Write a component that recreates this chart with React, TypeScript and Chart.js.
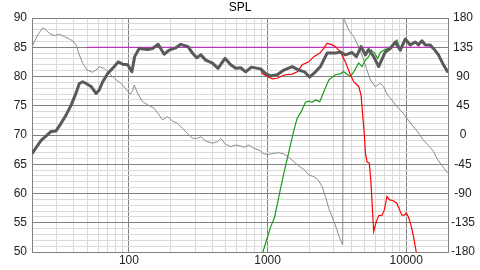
import React, { useEffect, useRef } from 'react';
import { Chart, registerables } from 'chart.js';

Chart.register(...registerables);

// ---- data ----
const splFreq = [20, 23.3, 27.5, 29.8, 32.4, 35.2, 38.3, 41.6, 43.9, 46.4, 49.1, 53.3, 57.9, 61.1, 64.7, 70.3, 78.4, 83.8, 90.1, 97.9, 105, 110, 118.6, 136, 148, 162.5, 179.5, 195, 218, 236.6, 267, 287, 308, 330, 358, 400, 439, 493, 542, 589, 640, 695, 764, 891, 968, 1052, 1175, 1310, 1506, 1680, 1845, 2005, 2215, 2405, 2687, 3083, 3350, 3640, 4066, 4366, 4722, 5070, 5357, 5821, 6324, 7063, 7674, 8337, 9057, 9840, 10690, 11615, 12250, 12970, 13700, 14890, 15710, 17070, 18540, 20000];
const splDb = [66.8, 69.1, 70.6, 70.7, 72.0, 73.4, 75.1, 77.2, 78.8, 79.1, 78.8, 78.3, 77.1, 77.7, 79.1, 80.5, 81.7, 82.5, 82.1, 82.0, 80.8, 83.4, 84.8, 84.6, 84.8, 85.5, 83.8, 84.5, 84.9, 85.5, 85.1, 84.0, 83.2, 83.7, 82.8, 82.3, 81.4, 83.1, 82.0, 81.4, 81.5, 80.8, 81.6, 81.3, 80.5, 80.1, 80.3, 81.1, 81.7, 81.1, 80.8, 79.9, 80.8, 81.7, 84.0, 84.0, 84.2, 83.7, 84.1, 83.4, 85.1, 83.7, 84.6, 83.4, 81.7, 84.2, 84.8, 85.9, 84.5, 86.4, 85.4, 85.9, 85.4, 86.1, 85.4, 85.4, 84.8, 83.7, 82.0, 80.7];

const wooferFreq = [916, 995, 1081, 1175, 1241, 1347, 1506, 1636, 1778, 1982, 2155, 2379, 2542, 2687, 2919, 3083, 3350, 3640, 3955, 4179, 4539, 4722, 4850, 4988, 5080, 5213, 5418, 5570, 5821, 6083, 6324, 6685, 6950, 7262, 7580, 8020, 8570, 8950, 9310, 9680, 10000, 10400, 10810, 11290, 11800, 12500];
const wooferDb = [80.5, 80.0, 79.6, 79.7, 80.0, 80.3, 80.4, 80.8, 82.0, 82.5, 83.4, 84.0, 84.8, 85.7, 85.4, 85.1, 84.2, 82.5, 80.3, 79.1, 78.3, 76.8, 73.4, 70.0, 66.8, 65.4, 65.2, 61.7, 53.5, 55.2, 56.2, 56.3, 57.2, 59.5, 58.9, 58.8, 58.3, 57.2, 56.3, 56.3, 56.7, 55.9, 54.6, 52.6, 50.0, 48.0];

const tweeterFreq = [880, 925, 984, 1052, 1122, 1206, 1310, 1423, 1546, 1636, 1748, 1876, 1982, 2098, 2215, 2379, 2542, 2761, 3000, 3083, 3350, 3540, 3744, 3955, 4179, 4539, 4800, 5070, 5357, 5600, 5912, 6219, 6505, 6990, 7460, 8020, 8570];
const tweeterDb = [47.0, 50.0, 52.1, 54.3, 55.9, 59.5, 63.5, 67.1, 70.8, 72.9, 74.0, 75.6, 75.8, 75.6, 76.0, 75.7, 77.4, 79.4, 80.1, 80.3, 80.5, 80.8, 80.4, 80.0, 80.8, 82.3, 81.7, 82.8, 83.4, 84.5, 84.0, 83.1, 84.1, 84.6, 84.8, 85.5, 86.2];

const targetFreq = [50, 15000];
const targetDb = [85, 85];

const phaseFreq = [20, 22, 23.9, 25.3, 26.7, 29, 31.5, 34.3, 37.2, 39.4, 41.6, 43.9, 46.4, 49.9, 54.8, 57.9, 61.1, 66.4, 72.2, 78.4, 87.5, 95.2, 101.7, 106.3, 109.2, 115.5, 125.5, 140, 152, 165, 174.7, 189.8, 206, 224, 243, 264, 287, 312, 330, 358, 400, 435, 459, 499, 542, 589, 640, 675, 733, 797, 866, 940, 1021, 1110, 1206, 1310, 1423, 1546, 1680, 1825, 1982, 2155, 2300, 2477, 2614, 2761, 2919, 3135, 3315, 3483, 3510, 3580, 3843, 4179, 4417, 4800, 5155, 5510, 5980, 6505, 6865, 7330, 7885, 8570, 9310, 10120, 10990, 12050, 13310, 14460, 15710, 16620, 18070, 20000];
const phaseDeg = [136, 154, 165, 161.5, 156.4, 152.8, 154.9, 151.3, 147.7, 144.6, 138.5, 123.1, 110.3, 100, 96.5, 100, 105.1, 102.6, 94.9, 87.2, 79.5, 70.8, 62.6, 67.7, 76.9, 64.2, 51.2, 45.1, 41.1, 30.8, 23.1, 28.2, 21.5, 18, 10.3, 2.6, -5.1, -5.1, -2.6, -9.2, -12.8, -10.3, -5.1, -14.3, -18, -15.4, -16.9, -19, -15.4, -20.5, -23.1, -29.2, -29.7, -28.2, -27.2, -29.2, -34.3, -41.1, -47.7, -52.8, -61.5, -64.1, -68.2, -79.5, -94.9, -112.8, -125.7, -143.5, -158.9, -169.2, 180, 176.9, 161.5, 151.3, 141, 123.1, 102.6, 84.6, 74.3, 79.5, 74.3, 61.5, 53.8, 43.5, 35.9, 25.6, 15.4, 5.1, -8, -16, -25, -36, -47, -59];

const xGridFreqs = [20, 30, 40, 50, 60, 70, 80, 90, 100, 200, 300, 400, 500, 600, 700, 800, 900, 1000, 2000, 3000, 4000, 5000, 6000, 7000, 8000, 9000, 10000, 20000];
const xLabelFreqs = [100, 1000, 10000];
const yLeftLabels = [50, 55, 60, 65, 70, 75, 80, 85, 90];
const yRightLabels = [-180, -135, -90, -45, 0, 45, 90, 135, 180];

const MAJOR = '#808080';
const MINOR = '#dadada';

const toPts = (xs: number[], ys: number[]) => xs.map((x, i) => ({ x, y: ys[i] }));

export default function App() {
  const ref = useRef<HTMLCanvasElement | null>(null);

  useEffect(() => {
    if (!ref.current) return;
    Chart.defaults.font.family = '"Liberation Sans", Arial, sans-serif';
    Chart.defaults.font.size = 12;

    const wooferAll = toPts(
      [...splFreq.filter((f) => f < 900), ...wooferFreq],
      [...splDb.filter((_, i) => splFreq[i] < 900), ...wooferDb]
    );
    const tweeterAll = toPts(
      [...tweeterFreq, ...splFreq.filter((f) => f > 8600)],
      [...tweeterDb, ...splDb.filter((_, i) => splFreq[i] > 8600)]
    );
    const yMinorGrid = Array.from({ length: 41 }, (_, i) => 50 + i);

    const chart = new Chart(ref.current, {
      type: 'line',
      data: {
        datasets: [
          {
            label: 'SPL',
            data: toPts(splFreq, splDb),
            borderColor: '#595959',
            borderWidth: 3,
            pointRadius: 0,
            yAxisID: 'y',
            order: 0,
            borderJoinStyle: 'round',
          },
          {
            label: 'Woofer',
            data: wooferAll,
            borderColor: '#ff0000',
            borderWidth: 1.2,
            pointRadius: 0,
            yAxisID: 'y',
            order: 1,
          },
          {
            label: 'Tweeter',
            data: tweeterAll,
            borderColor: '#1e9a1e',
            borderWidth: 1.2,
            pointRadius: 0,
            yAxisID: 'y',
            order: 2,
          },
          {
            label: 'Target',
            data: toPts(targetFreq, targetDb),
            borderColor: '#cc22cc',
            borderWidth: 1,
            pointRadius: 0,
            yAxisID: 'y',
            order: 3,
          },
          {
            label: 'Phase',
            data: toPts(phaseFreq, phaseDeg),
            borderColor: '#8c8c8c',
            borderWidth: 1,
            pointRadius: 0,
            yAxisID: 'y1',
            order: 4,
          },
        ],
      },
      options: {
        animation: false,
        responsive: false,
        events: [],
        plugins: {
          legend: { display: false },
          tooltip: { enabled: false },
          title: {
            display: true,
            text: 'SPL',
            color: '#000',
            font: { size: 12, weight: 'normal' },
            padding: { top: 0, bottom: 3.6 },
          },
        },
        scales: {
          x: {
            type: 'logarithmic',
            min: 20,
            max: 20000,
            afterBuildTicks: (s: any) => {
              s.ticks = xGridFreqs.map((v) => ({ value: v }));
            },
            afterFit: (s: any) => {
              s.height = 18;
            },
            grid: {
              drawTicks: false,
              color: (ctx: any) => {
                const v = ctx.tick ? ctx.tick.value : 0;
                return xLabelFreqs.includes(v) || v === 20 || v === 20000 ? MAJOR : MINOR;
              },
            },
            border: { color: MAJOR },
            ticks: {
              autoSkip: false,
              maxRotation: 0,
              padding: 1,
              color: '#222',
              callback: (v: any) => (xLabelFreqs.includes(Number(v)) ? String(v) : ''),
            },
          },
          y: {
            type: 'linear',
            position: 'left',
            min: 50,
            max: 90,
            afterBuildTicks: (s: any) => {
              s.ticks = yMinorGrid.map((v) => ({ value: v }));
            },
            afterFit: (s: any) => {
              s.width = 32;
            },
            grid: {
              drawTicks: false,
              color: (ctx: any) => (ctx.tick && yLeftLabels.includes(ctx.tick.value) ? MAJOR : MINOR),
            },
            border: { color: MAJOR },
            ticks: {
              autoSkip: false,
              padding: 5,
              color: '#222',
              callback: (v: any) => (yLeftLabels.includes(Number(v)) ? String(v) : ''),
            },
          },
          y1: {
            type: 'linear',
            position: 'right',
            min: -180,
            max: 180,
            afterBuildTicks: (s: any) => {
              s.ticks = yRightLabels.map((v) => ({ value: v }));
            },
            afterFit: (s: any) => {
              s.width = 32;
            },
            grid: { drawOnChartArea: false, drawTicks: false },
            border: { color: MAJOR },
            ticks: {
              autoSkip: false,
              padding: 3,
              crossAlign: 'center',
              color: '#222',
              callback: (v: any) => String(v),
            },
          },
        },
      },
    } as any);

    return () => chart.destroy();
  }, []);

  return (
    <canvas
      ref={ref}
      width={480}
      height={270}
      style={{ position: 'absolute', left: 0, top: 0, width: 480, height: 270, background: '#fff' }}
    />
  );
}
